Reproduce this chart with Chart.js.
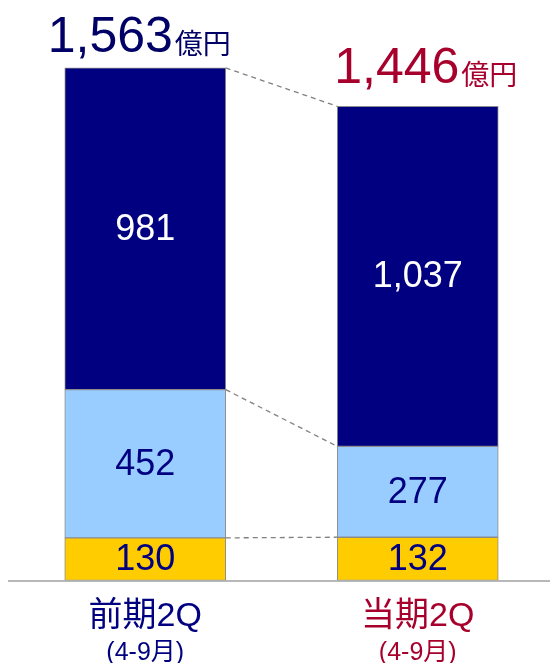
<!DOCTYPE html>
<html>
<head>
<meta charset="utf-8">
<script src="https://cdn.jsdelivr.net/npm/chart.js@4"></script>
<style>
  html, body { margin: 0; padding: 0; background: #fff; overflow: hidden; }
  canvas { display: block; }
</style>
</head>
<body>
<canvas id="chart" width="560" height="663"></canvas>
<script>
const periods = ["前期2Q", "当期2Q"];
const months = ["(4-9月)", "(4-9月)"];
const totals = ["1,563", "1,446"];
const seg1 = [130, 132];   // bottom (yellow)
const seg2 = [452, 277];   // middle (light blue)
const seg3 = [981, 1037];  // top (navy)

const navy = "#000080";
const crimson = "#a8002c";
const periodColors = [navy, crimson];
const totalColors = ["#000066", crimson];

const FONT = "'Liberation Sans', Arial, 'Noto Sans CJK JP', sans-serif";
const CJK = "'Noto Sans CJK JP', 'Liberation Sans', sans-serif";

const fmt = (v) => v.toLocaleString("en-US");

// dashed connectors, value labels, totals, category labels, baseline
const decor = {
  id: "decor",
  afterDatasetsDraw(chart) {
    const ctx = chart.ctx;
    const area = chart.chartArea;
    const metas = chart.data.datasets.map((d, i) => chart.getDatasetMeta(i));

    // connectors between bars
    ctx.save();
    ctx.strokeStyle = "#808080";
    ctx.lineWidth = 1.3;
    ctx.setLineDash([5, 4]);
    metas.forEach((m) => {
      const a = m.data[0], b = m.data[1];
      ctx.beginPath();
      ctx.moveTo(a.x + a.width / 2, a.y);
      ctx.lineTo(b.x - b.width / 2, b.y);
      ctx.stroke();
    });
    ctx.restore();

    // values inside segments
    ctx.save();
    ctx.textAlign = "center";
    ctx.textBaseline = "middle";
    ctx.font = "36px " + FONT;
    metas.forEach((m, di) => {
      m.data.forEach((el, i) => {
        const v = chart.data.datasets[di].data[i];
        ctx.fillStyle = di === 2 ? "#ffffff" : navy;
        ctx.fillText(fmt(v), el.x, (el.y + el.base) / 2 + 1);
      });
    });
    ctx.restore();

    // totals above bars
    const top = metas[2];
    const shiftX = [-6, 8];
    const gapY = [16, 23];
    ctx.save();
    ctx.textBaseline = "alphabetic";
    top.data.forEach((el, i) => {
      ctx.font = "50px " + FONT;
      const w1 = ctx.measureText(totals[i]).width;
      ctx.font = "28px " + CJK;
      const w2 = ctx.measureText("億円").width;
      const x0 = el.x + shiftX[i] - (w1 + w2 + 2) / 2;
      const yb = el.y - gapY[i];
      ctx.fillStyle = totalColors[i];
      ctx.font = "50px " + FONT;
      ctx.fillText(totals[i], x0, yb);
      ctx.font = "28px " + CJK;
      ctx.fillText("億円", x0 + w1 + 2, yb + 2);
    });
    ctx.restore();

    // baseline
    ctx.save();
    ctx.strokeStyle = "#a0a0a0";
    ctx.lineWidth = 1.5;
    ctx.beginPath();
    ctx.moveTo(8, area.bottom + 0.5);
    ctx.lineTo(550, area.bottom + 0.5);
    ctx.stroke();
    ctx.restore();

    // category labels
    const xs = chart.scales.x;
    ctx.save();
    ctx.textAlign = "center";
    ctx.textBaseline = "alphabetic";
    periods.forEach((p, i) => {
      const x = xs.getPixelForValue(i);
      ctx.fillStyle = periodColors[i];
      ctx.font = "34px " + FONT;
      ctx.fillText(p, x, 626);
      ctx.font = "25px " + FONT;
      ctx.fillText(months[i], x, 660);
    });
    ctx.restore();
  }
};

const mkSet = (data, color) => ({
  data: data,
  backgroundColor: color,
  borderColor: "#8c8c8c",
  borderWidth: 1,
  borderSkipped: false,
  barThickness: 161
});

new Chart(document.getElementById("chart"), {
  type: "bar",
  data: {
    labels: periods,
    datasets: [
      mkSet(seg1, "#ffcc00"),
      mkSet(seg2, "#99ccff"),
      mkSet(seg3, navy)
    ]
  },
  options: {
    responsive: false,
    animation: false,
    layout: { padding: { top: 23, bottom: 82.5, left: 9, right: 6 } },
    plugins: { legend: { display: false }, tooltip: { enabled: false } },
    scales: {
      x: { stacked: true, display: false },
      y: { stacked: true, display: false, min: 0, max: 1700 }
    }
  },
  plugins: [decor]
});
</script>
</body>
</html>
